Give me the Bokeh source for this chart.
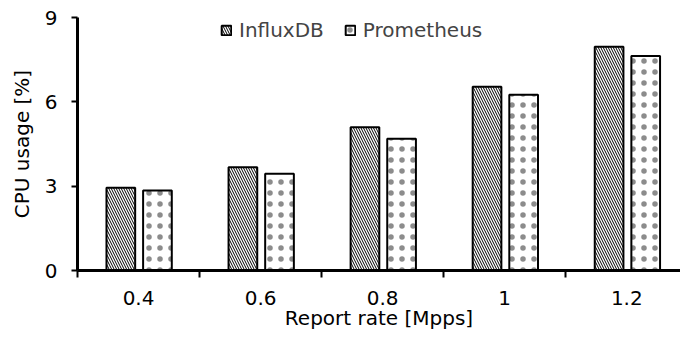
from bokeh.plotting import figure
from bokeh.models import Range1d, FixedTicker, Legend, LegendItem, ColumnDataSource
from bokeh.embed import file_html
from bokeh.resources import INLINE

categories = ["0.4", "0.6", "0.8", "1", "1.2"]
influxdb = [2.94, 3.67, 5.10, 6.54, 7.96]
prometheus = [2.85, 3.44, 4.69, 6.25, 7.63]
y_ticks = [0, 3, 6, 9]

FONT = "DejaVu Sans"
FS = "20px"
n = len(categories)
centers = [i + 0.5 for i in range(n)]
bounds = list(range(n + 1))

src = ColumnDataSource(dict(
    xi=[c - 0.145 for c in centers],
    xp=[c + 0.155 for c in centers],
    influx=influxdb,
    prom=prometheus,
))

p = figure(width=680, height=338, output_backend="svg", toolbar_location=None,
           x_range=Range1d(0, 4.94), y_range=Range1d(0, 9))
p.min_border_left = 77
p.min_border_right = 0
p.min_border_top = 17
p.min_border_bottom = 68
p.outline_line_color = None
p.grid.visible = False
p.background_fill_color = "white"
p.border_fill_color = "white"

r1 = p.vbar(x="xi", top="influx", width=0.235, source=src, fill_color="white",
            line_color="black", line_width=2, hatch_pattern="\\", hatch_scale=5,
            hatch_color="black", hatch_weight=1)
r2 = p.vbar(x="xp", top="prom", width=0.235, source=src, fill_color="white",
            line_color="black", line_width=2, hatch_pattern=".", hatch_scale=11,
            hatch_color="black", hatch_alpha=0.45, hatch_weight=0.35)

xa = p.xaxis[0]
xa.ticker = FixedTicker(ticks=centers, minor_ticks=bounds)
xa.major_label_overrides = {c: lab for c, lab in zip(centers, categories)}
xa.minor_tick_out = 7
xa.minor_tick_in = 0
xa.minor_tick_line_color = "black"
xa.minor_tick_line_width = 2
xa.axis_line_width = 3
xa.axis_label = "Report rate [Mpps]"
xa.axis_label_standoff = -2
xa.major_label_standoff = 13

ya = p.yaxis[0]
ya.ticker = FixedTicker(ticks=y_ticks)
ya.major_tick_out = 6
ya.major_tick_in = 0
ya.major_tick_line_width = 2
ya.minor_tick_line_color = None
ya.axis_line_width = 3
ya.axis_label = "CPU usage [%]"
ya.major_label_standoff = 14
ya.axis_label_standoff = 8

for ax in (xa, ya):
    ax.major_label_text_font = FONT
    ax.major_label_text_font_size = FS
    ax.major_label_text_color = "black"
    ax.axis_label_text_font = FONT
    ax.axis_label_text_font_size = FS
    ax.axis_label_text_font_style = "normal"
    ax.axis_label_text_color = "black"
    ax.axis_line_color = "black"
xa.major_tick_line_color = None
ya.major_tick_line_color = "black"

legend = Legend(items=[LegendItem(label="InfluxDB", renderers=[r1]),
                       LegendItem(label="Prometheus", renderers=[r2])],
                orientation="horizontal", location=(143, 228),
                border_line_color=None, background_fill_alpha=0,
                label_text_font=FONT, label_text_font_size=FS,
                glyph_width=12, glyph_height=12, label_standoff=7,
                spacing=20, padding=0, margin=0)
p.add_layout(legend, "center")

open("out.html", "w").write(file_html(p, INLINE))
